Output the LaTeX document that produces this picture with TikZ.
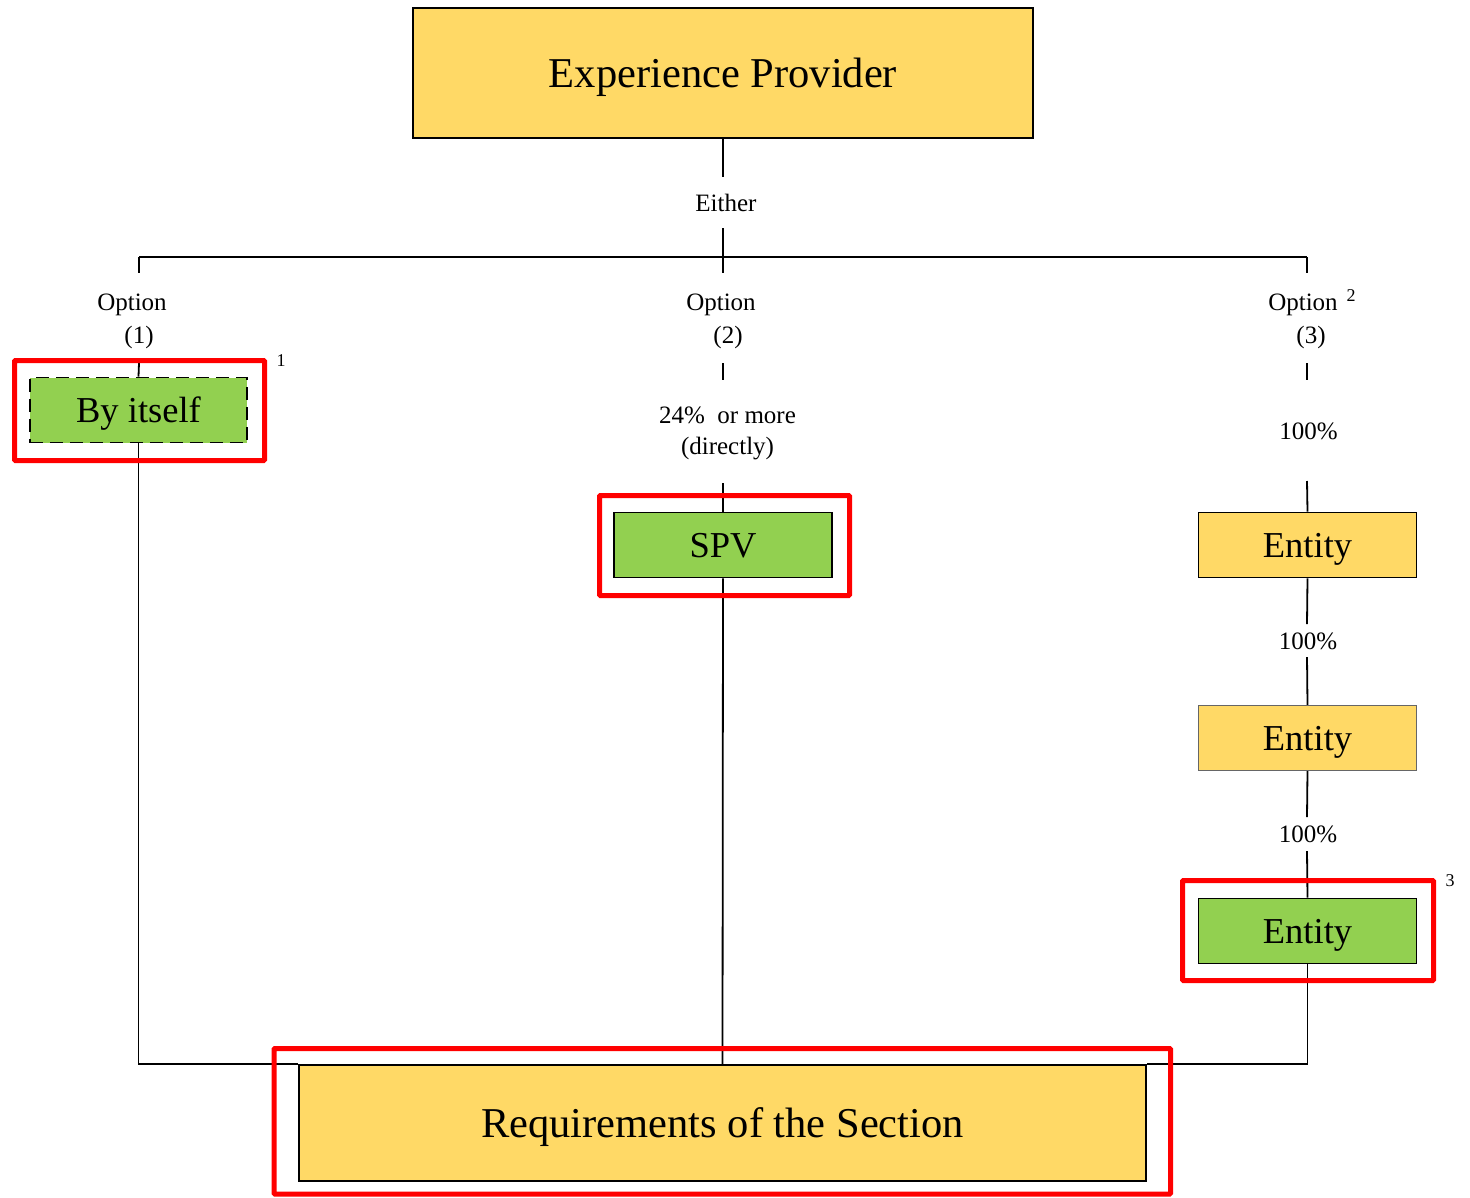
\documentclass[tikz,border=0pt]{standalone}
\usepackage{fontspec}
\setmainfont{Liberation Serif}
\definecolor{boxyellow}{HTML}{FFD966}
\definecolor{boxgreen}{HTML}{92D050}
\definecolor{framered}{HTML}{FF0000}
\begin{document}
\begin{tikzpicture}[x=1pt,y=-1pt,
  conn/.style={line width=1.8pt},
  bigtext/.style={font=\fontsize{42.5}{48}\selectfont, text height=28pt, text depth=0pt},
  midtext/.style={font=\fontsize{36.5}{42}\selectfont, text height=24pt, text depth=0pt},
  smalltext/.style={font=\fontsize{25}{30}\selectfont, inner sep=0pt, text height=16.5pt, text depth=0pt},
  footnum/.style={font=\fontsize{18}{22}\selectfont, inner sep=0pt, text height=12pt, text depth=0pt},
  basebox/.style={rectangle, draw=black, line width=1.8pt, inner sep=0pt},
  ybox/.style={basebox, fill=boxyellow},
  gbox/.style={basebox, fill=boxgreen},
  redframe/.style={draw=framered, line width=5pt, rounded corners=1pt}
]
\useasboundingbox (0,0) rectangle (1470,1197);

% main boxes
\node[ybox, bigtext, minimum width=620, minimum height=130] (ep) at (723,73) {Experience Provider};
\node[gbox, midtext, dashed, dash pattern=on 13pt off 7pt, minimum width=217, minimum height=65] (self) at (138.5,410) {By itself};
\node[gbox, midtext, minimum width=218, minimum height=65] (spv) at (723,545) {SPV};
\node[ybox, midtext, minimum width=218, minimum height=65] (ent1) at (1307.5,545) {Entity};
\node[ybox, midtext, draw=gray!80!black, line width=1.3pt, minimum width=218, minimum height=65] (ent2) at (1307.5,738) {Entity};
\node[gbox, midtext, minimum width=218, minimum height=65] (ent3) at (1307.5,931) {Entity};
\node[ybox, bigtext, minimum width=847, minimum height=116] (req) at (722.5,1123) {Requirements of the Section};

% labels
\node[smalltext] (either) at (726,203) {Either};
\node[smalltext] (opt1) at (132,302) {Option};
\node[smalltext] (num1) at (139,335) {(1)};
\node[smalltext] (opt2) at (721,302) {Option};
\node[smalltext] (num2) at (728,335) {(2)};
\node[smalltext] (opt3) at (1303,302) {Option};
\node[smalltext] (num3) at (1311,335) {(3)};
\node[smalltext] (pct2a) at (727.5,415) {24\%\ \ or more};
\node[smalltext] (pct2b) at (727.5,446) {(directly)};
\node[smalltext] (pct3a) at (1308.5,431) {100\%};
\node[smalltext] (pct3b) at (1308,641) {100\%};
\node[smalltext] (pct3c) at (1308,834) {100\%};
\node[footnum] (fn1) at (281,360) {1};
\node[footnum] (fn2) at (1351,295) {2};
\node[footnum] (fn3) at (1450,880) {3};

% connector coordinates
\coordinate (e1) at (723,177);
\coordinate (e2) at (723,228);
\coordinate (j) at (723,257);
\coordinate (jl) at (139,257);
\coordinate (jr) at (1307,257);
\coordinate (tl) at (139,273);
\coordinate (tm) at (723,273);
\coordinate (tr) at (1307,273);
\coordinate (ul) at (139,363);
\coordinate (um1) at (723,363);
\coordinate (um2) at (723,380);
\coordinate (ur1) at (1307,363);
\coordinate (ur2) at (1307,380);
\coordinate (vm) at (723,483);
\coordinate (vr) at (1307,481);
\coordinate (w1) at (1307,624);
\coordinate (w2) at (1307,657);
\coordinate (w3) at (1307,817);
\coordinate (w4) at (1307,851);

% connectors
\draw[conn] (ep.south) -- (e1);
\draw[conn] (e2) -- (j);
\draw[conn] (jl) -- (jr);
\draw[conn] (jl) -- (tl);
\draw[conn] (j) -- (tm);
\draw[conn] (jr) -- (tr);
\draw[conn] (ul) -- (self.north);
\draw[conn] (um1) -- (um2);
\draw[conn] (ur1) -- (ur2);
\draw[conn] (vm) -- (spv.north);
\draw[conn] (vr) -- (ent1.north);
\draw[conn] (ent1.south) -- (w1);
\draw[conn] (w2) -- (ent2.north);
\draw[conn] (ent2.south) -- (w3);
\draw[conn] (w4) -- (ent3.north);
\draw[conn] (self.south) |- (req.north west);
\draw[conn] (ent3.south) |- (req.north east);
\draw[conn] (spv.south) -- (req.north);

% red highlight frames
\draw[redframe] (14.5,360.5) rectangle (264.5,460.5);
\draw[redframe] (599.5,495.5) rectangle (849.5,595.5);
\draw[redframe] (1182.5,880.5) rectangle (1433.5,980.5);
\draw[redframe] (274,1048.5) rectangle (1170.5,1194);
\end{tikzpicture}
\end{document}
